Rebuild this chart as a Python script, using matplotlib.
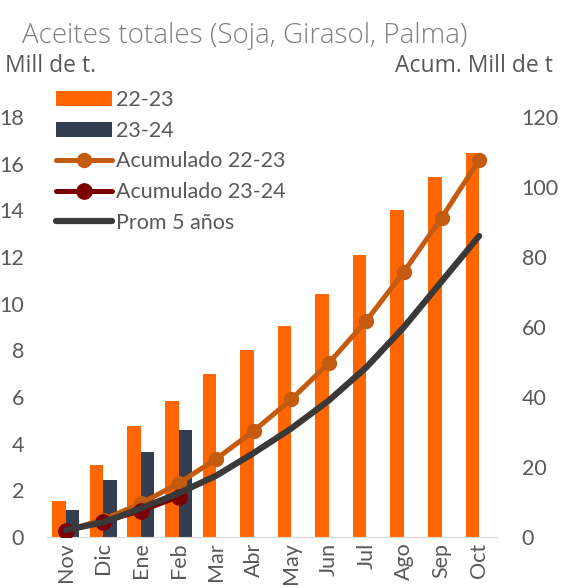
import numpy as np
import matplotlib.pyplot as plt

plt.rcParams['font.family'] = ['Lato', 'DejaVu Sans']

meses = ['Nov', 'Dic', 'Ene', 'Feb', 'Mar', 'Abr', 'May', 'Jun', 'Jul', 'Ago', 'Sep', 'Oct']
v_2223 = [1.55, 3.1, 4.75, 5.85, 7.0, 8.0, 9.05, 10.4, 12.1, 14.0, 15.45, 16.45]
v_2324 = [1.15, 2.45, 3.65, 4.6]
acum_2223 = [1.8, 5.0, 9.6, 15.3, 22.3, 30.3, 39.3, 49.7, 61.8, 75.8, 91.2, 107.7]
acum_2324 = [1.8, 4.4, 7.5, 11.5]
prom_5 = [2.0, 4.2, 8.2, 12.5, 17.5, 24.0, 31.0, 39.0, 48.5, 60.0, 73.0, 86.0]

gris = '#595959'
x = np.arange(len(meses))
w = 0.36

fig = plt.figure(figsize=(5.71, 5.88), dpi=100)
ax = fig.add_axes([0.0823, 0.0867, 0.7897, 0.7143])
ax2 = ax.twinx()

b1 = ax.bar(x - w / 2, v_2223, w, color='#FF6600', label='22-23')
b2 = ax.bar(x[:len(v_2324)] + w / 2, v_2324, w, color='#333F50', label='23-24')

l1, = ax2.plot(x, acum_2223, color='#C55A11', lw=3.6, marker='o', ms=10,
               solid_capstyle='round', label='Acumulado 22-23', zorder=2)
l2, = ax2.plot(x[:len(acum_2324)], acum_2324, color='#7B0000', lw=3.6, marker='o',
               ms=11, solid_capstyle='round', label='Acumulado 23-24', zorder=3)
l3, = ax2.plot(x, prom_5, color='#3A3838', lw=4.5, solid_capstyle='round',
               label='Prom 5 años', zorder=4)

ax.set_xlim(-0.5, 11.5)
ax.set_ylim(0, 18)
ax2.set_ylim(0, 120)
ax.set_yticks(range(0, 19, 2))
ax2.set_yticks(range(0, 121, 20))
ax.set_xticks(x)
ax.set_xticklabels(meses, rotation=90)

for a in (ax, ax2):
    for s in a.spines.values():
        s.set_visible(False)
    a.tick_params(length=0, labelsize=15.5, colors=gris)
ax.spines['bottom'].set_visible(True)
ax.spines['bottom'].set_color('#D9D9D9')
ax.tick_params(axis='y', pad=16.5)
ax.tick_params(axis='x', pad=4)
ax2.tick_params(axis='y', pad=17)

leg = ax2.legend([b1, b2, l1, l2, l3],
                 ['22-23', '23-24', 'Acumulado 22-23', 'Acumulado 23-24', 'Prom 5 años'],
                 loc='upper left', bbox_to_anchor=(0.0, 1.085), frameon=False,
                 fontsize=15.5, handlelength=2.6, handletextpad=0.2,
                 labelspacing=0.5, borderaxespad=0)
for t in leg.get_texts():
    t.set_color(gris)

fig.text(0.038, 0.938, 'Aceites totales (Soja, Girasol, Palma)', fontsize=20,
         color='#808080', va='center', family=['Open Sans', 'DejaVu Sans'],
         fontweight='light')
fig.text(0.009, 0.888, 'Mill de t.', fontsize=16.5, color=gris, va='center',
         family=['Open Sans', 'DejaVu Sans'])
fig.text(0.969, 0.888, 'Acum. Mill de t', fontsize=16.5, color=gris, va='center', ha='right',
         family=['Open Sans', 'DejaVu Sans'])

fig.savefig('out.png', dpi=100)
